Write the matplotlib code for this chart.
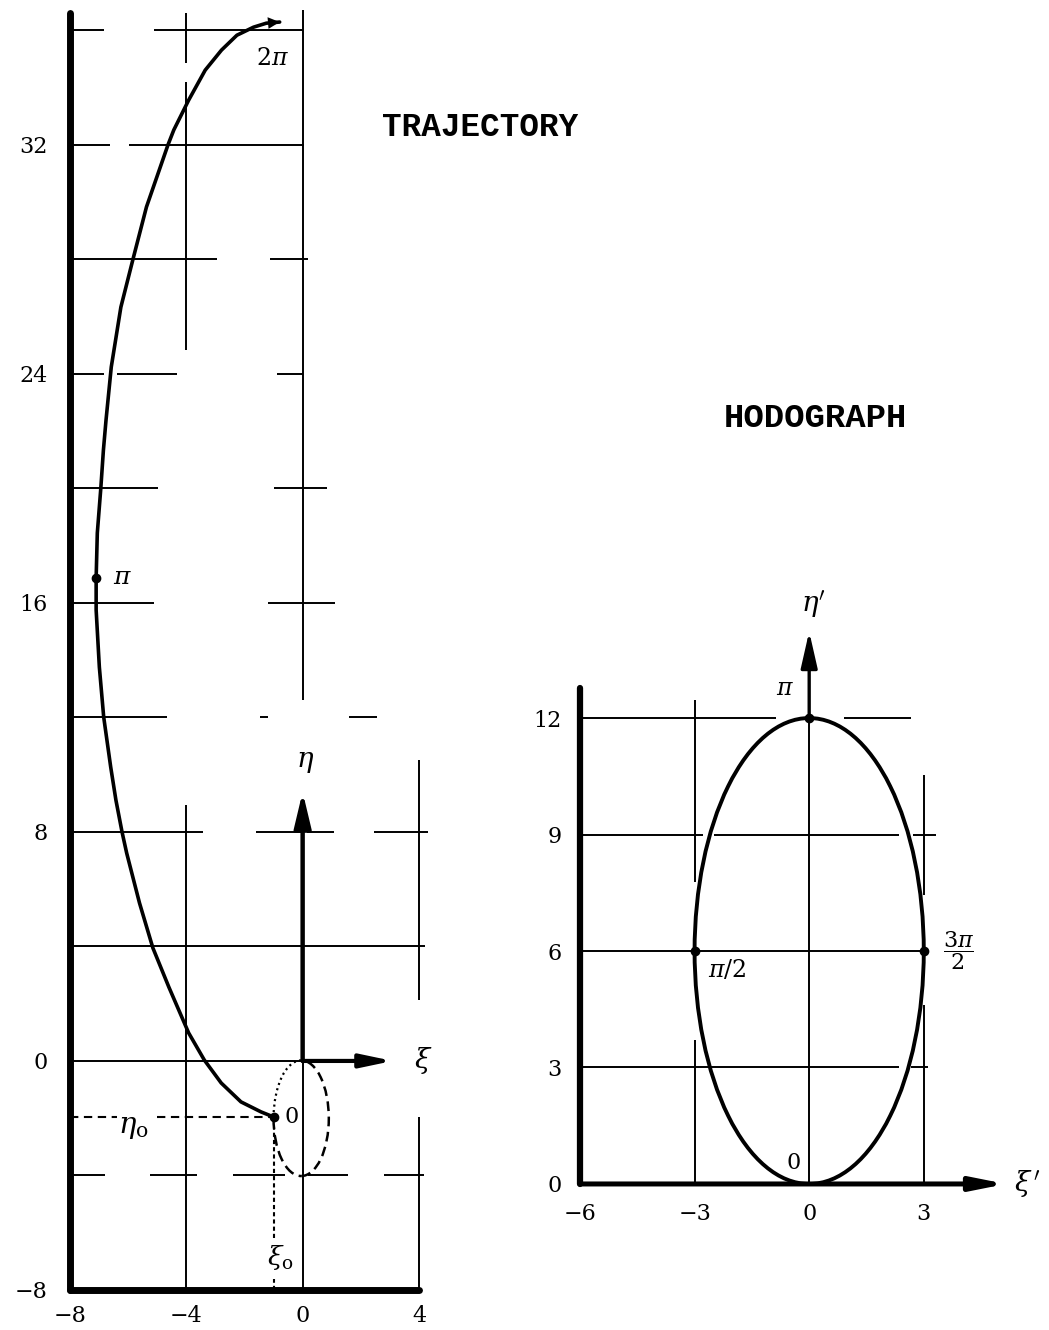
import matplotlib.pyplot as plt
from matplotlib.patches import Ellipse, Arc

plt.rcParams['font.family'] = 'DejaVu Serif'
plt.rcParams['mathtext.fontset'] = 'dejavuserif'
plt.rcParams['lines.scale_dashes'] = False

# trajectory in the (xi, eta) plane, theta running from 0 to 2 pi
traj_xi = [-0.99, -1.43, -2.12, -2.80, -3.38, -3.92, -4.60, -5.15, -5.61, -6.05,
           -6.21, -6.42, -6.60, -6.84, -6.99, -7.10, -7.10, -7.06, -6.94, -6.85,
           -6.76, -6.58, -6.25, -5.84, -5.37, -4.63, -4.43, -3.92, -3.35, -2.79,
           -2.26, -1.69, -1.25, -0.79]
traj_eta = [-1.96, -1.78, -1.43, -0.77, 0.03, 0.98, 2.58, 3.95, 5.52, 7.26,
            8.0, 9.11, 10.27, 12.01, 13.76, 15.75, 16.87, 18.44, 20.0, 21.34,
            22.39, 24.24, 26.33, 27.98, 29.83, 32.0, 32.52, 33.56, 34.61, 35.31,
            35.83, 36.11, 36.25, 36.29]
i_start, i_half, i_end = 0, 16, len(traj_xi) - 1

# initial offset (xi_o, eta_o) and the relative-motion loop through it
xi0, eta0 = traj_xi[i_start], traj_eta[i_start]
loop_center = (-0.05, -2.0)
loop_size = (1.9, 4.04)

traj_xticks = [-8, -4, 0, 4]
traj_yticks = [-8, 0, 8, 16, 24, 32]

# hodograph (xi', eta')
hodo_center = (0, 6)
hodo_size = (6, 12)
hodo_xi = [-3, 0, 3]
hodo_eta = [6, 12, 6]

hodo_xticks = [-6, -3, 0, 3]
hodo_yticks = [0, 3, 6, 9, 12]

# broken grid lines, drawn by hand
traj_hgrid = {
    36: [(-8, -6.83), (-5.12, 0)],
    32: [(-8, -6.63), (-5.96, 0.06)],
    28: [(-8, -2.95), (-1.11, 0.19)],
    24: [(-8, -6.83), (-6.39, -4.32), (-0.88, 0)],
    20: [(-8, -4.98), (-1.0, 0.85)],
    16: [(-8, -5.1), (-1.18, 1.1)],
    12: [(-8, -4.67), (-1.48, -1.18), (1.61, 2.55)],
    8: [(-8, -3.41), (-1.62, -0.07), (0.14, 1.07), (2.45, 4.3)],
    4: [(-8, 4.22)],
    0: [(-8, 0)],
    -4: [(-7.9, -6.8), (-5.24, -3.62), (-2.41, -0.6), (0.2, 1.55), (2.79, 4.17)],
}
traj_vgrid = {
    -4: [(34.86, 36.6), (24.83, 34.2), (-8, 8.94)],
    0: [(12.6, 36.7), (-8, 0)],
    4: [(2.13, 10.5), (-8, -1.96)],
}
hodo_hgrid = {
    12: [(-6, -0.86), (0.92, 2.67)],
    9: [(-6, -2.77), (-2.49, 2.36), (2.72, 3.32)],
    6: [(-6, 3.0)],
    3: [(-6, 2.36), (2.67, 3.11)],
}
hodo_vgrid = {
    -3: [(7.78, 12.47), (0, 3.71)],
    0: [(0, 12)],
    3: [(7.45, 10.54), (0, 4.61)],
}

fig = plt.figure(figsize=(10.49, 13.30), dpi=100)

# ---------------- trajectory ----------------
ax1 = fig.add_axes([0.0667, 0.0301, 0.3327, 0.960])
ax1.set_xlim(-8, 4)
ax1.set_ylim(-8, 36.6)
for s in ['top', 'right']:
    ax1.spines[s].set_visible(False)
for s in ['left', 'bottom']:
    ax1.spines[s].set_linewidth(5)
    ax1.spines[s].set_capstyle('round')
ax1.set_xticks(traj_xticks)
ax1.set_yticks(traj_yticks)
ax1.tick_params(axis='both', length=0, labelsize=16)
ax1.tick_params(axis='y', pad=16)
ax1.tick_params(axis='x', pad=11)

for y, segs in traj_hgrid.items():
    for a, b in segs:
        ax1.hlines(y, a, b, color='k', lw=1.4, clip_on=False)
for x, segs in traj_vgrid.items():
    for a, b in segs:
        ax1.vlines(x, a, b, color='k', lw=1.4, clip_on=False)

# eta and xi axes
ax1.annotate('', xy=(0, 9.4), xytext=(0, 0),
             arrowprops=dict(arrowstyle='-|>,head_length=1.05,head_width=0.25',
                             mutation_scale=20, lw=3.2, color='k',
                             shrinkA=0, shrinkB=0))
ax1.annotate('', xy=(3.1, 0), xytext=(0, 0),
             arrowprops=dict(arrowstyle='-|>,head_length=0.95,head_width=0.2',
                             mutation_scale=20, lw=3.0, color='k',
                             shrinkA=0, shrinkB=0))
ax1.text(0.1, 10.45, r'$\eta$', fontsize=20, ha='center', va='center')
ax1.text(4.14, 0.0, r'$\xi$', fontsize=20, ha='center', va='center',
         clip_on=False)

# initial offset lines
ax1.hlines(eta0, -8, -6.4, color='k', lw=1.5, linestyles=[(0, (6, 4))])
ax1.hlines(eta0, -5.0, xi0, color='k', lw=1.5, linestyles=[(0, (6, 4))])
ax1.vlines(xi0, -6.2, -2.3, color='k', lw=1.5, linestyles=[(0, (3, 2.2))])
ax1.vlines(xi0, -8, -7.6, color='k', lw=1.5, linestyles=[(0, (3, 2.2))])
ax1.text(-6.34, -2.5, r'$\eta_{\rm o}$', fontsize=21, ha='left', va='baseline')
ax1.text(-1.24, -7.13, r'$\xi_{\rm o}$', fontsize=19, ha='left', va='baseline')

# relative-motion loop
ax1.add_patch(Arc(loop_center, *loop_size, theta1=-90, theta2=90, color='k',
                  lw=1.8, linestyle=(0, (7, 4))))
ax1.add_patch(Arc(loop_center, *loop_size, theta1=90, theta2=180, color='k',
                  lw=1.6, linestyle=(0, (1.5, 2.5))))
ax1.add_patch(Arc(loop_center, *loop_size, theta1=180, theta2=270, color='k',
                  lw=1.8, linestyle=(0, (8, 4))))

# trajectory curve
ax1.plot(traj_xi, traj_eta, color='k', lw=2.6, solid_joinstyle='round',
         solid_capstyle='round', clip_on=False)
ax1.annotate('', xy=(traj_xi[i_end], traj_eta[i_end]),
             xytext=(traj_xi[i_end - 1], traj_eta[i_end - 1]),
             arrowprops=dict(arrowstyle='-|>,head_length=0.6,head_width=0.3',
                             mutation_scale=14, lw=0, color='k',
                             shrinkA=0, shrinkB=0), annotation_clip=False)
ax1.plot([traj_xi[i_start], traj_xi[i_half]], [traj_eta[i_start], traj_eta[i_half]],
         'o', color='k', ms=6)
ax1.text(xi0 + 0.6, eta0, '0', fontsize=16, ha='center', va='center')
ax1.text(traj_xi[i_half] + 0.9, traj_eta[i_half], r'$\pi$', fontsize=18,
         ha='center', va='center')
ax1.text(traj_xi[i_end] - 0.25, traj_eta[i_end] - 1.27, r'$2\pi$', fontsize=17,
         ha='center', va='center')

# ---------------- hodograph ----------------
ax2 = fig.add_axes([0.5529, 0.1098, 0.4042, 0.4233])
ax2.set_xlim(-6, 5.1)
ax2.set_ylim(0, 14.5)
for s in ['top', 'right', 'bottom']:
    ax2.spines[s].set_visible(False)
ax2.spines['left'].set_linewidth(4.5)
ax2.spines['left'].set_bounds(0, 12.77)
ax2.spines['left'].set_capstyle('round')
ax2.set_xticks(hodo_xticks)
ax2.set_yticks(hodo_yticks)
ax2.tick_params(axis='both', length=0, labelsize=16)
ax2.tick_params(axis='y', pad=13)
ax2.tick_params(axis='x', pad=14)

for y, segs in hodo_hgrid.items():
    for a, b in segs:
        ax2.hlines(y, a, b, color='k', lw=1.4)
for x, segs in hodo_vgrid.items():
    for a, b in segs:
        ax2.vlines(x, a, b, color='k', lw=1.4)

ax2.annotate('', xy=(0, 14.23), xytext=(0, 12),
             arrowprops=dict(arrowstyle='-|>,head_length=1.1,head_width=0.25',
                             mutation_scale=20, lw=2.4, color='k',
                             shrinkA=0, shrinkB=0))
ax2.annotate('', xy=(5.15, 0), xytext=(-6, 0),
             arrowprops=dict(arrowstyle='-|>,head_length=1.0,head_width=0.2',
                             mutation_scale=20, lw=3.6, color='k',
                             shrinkA=0, shrinkB=0), annotation_clip=False)
ax2.text(0.12, 14.95, r"$\eta'$", fontsize=20, ha='center', va='center')
ax2.text(5.72, 0.0, r"$\xi\,'$", fontsize=20, ha='center', va='center',
         clip_on=False)

ax2.add_patch(Ellipse(hodo_center, *hodo_size, fill=False, color='k', lw=2.8))
ax2.plot(hodo_xi, hodo_eta, 'o', color='k', ms=6)
ax2.text(-0.62, 12.75, r'$\pi$', fontsize=17, ha='center', va='center')
ax2.text(-2.64, 5.5, r'$\pi/2$', fontsize=17, ha='left', va='center')
ax2.text(3.9, 6.0, r'$\dfrac{3\pi}{2}$', fontsize=16, ha='center', va='center')
ax2.text(-0.42, 0.55, '0', fontsize=16, ha='center', va='center')

fig.text(480 / 1049, 1 - 128 / 1330, 'TRAJECTORY', family='Liberation Mono',
         weight='bold', fontsize=23.5, ha='center', va='center')
fig.text(815 / 1049, 1 - 419 / 1330, 'HODOGRAPH', family='Liberation Mono',
         weight='bold', fontsize=24.5, ha='center', va='center')

fig.savefig('out.png', dpi=100, facecolor='white')
